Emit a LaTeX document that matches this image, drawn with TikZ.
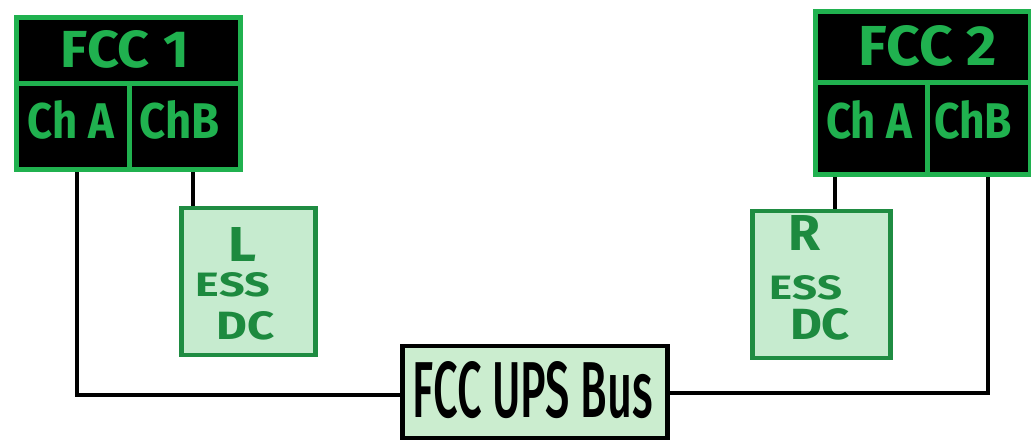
\documentclass[tikz,border=0pt]{standalone}
\usepackage{fontspec}
\setmainfont{Fira Sans}
\usetikzlibrary{calc}
\definecolor{fccgreen}{HTML}{20B14F}
\definecolor{essfill}{HTML}{C6EBCF}
\definecolor{essline}{HTML}{1F8C42}
\definecolor{esstext}{HTML}{1D8A3F}
\definecolor{busfill}{HTML}{CBEDCF}
\newcommand\fitlabel[3]{\resizebox{#1pt}{#2pt}{#3}}
\tikzset{
  cell/.style={draw=fccgreen, fill=black, line width=5pt, inner sep=0pt, anchor=north west},
  essbox/.style={draw=essline, fill=essfill, line width=4.5pt, inner sep=0pt, anchor=north west},
  esslabel/.style={text=esstext, inner sep=0pt},
  busbox/.style={draw=black, fill=busfill, line width=4.5pt, inner sep=0pt, anchor=north west},
  wire/.style={draw=black, line width=3.5pt}
}
\begin{document}
\begin{tikzpicture}[x=1pt,y=-1pt]
\useasboundingbox (0,0) rectangle (1031,443);
% FCC 1
\node[cell, minimum width=224pt, minimum height=65.5pt] (fcc1) at (13.5,15.5) {};
\node[cell, minimum width=113.5pt, minimum height=86.5pt] (fcc1a) at (13.5,81) {};
\node[cell, minimum width=110.5pt, minimum height=86.5pt] (fcc1b) at (127,81) {};
\node[text=fccgreen, inner sep=0pt] (t1) at (125,49) {\fitlabel{128}{37}{\bfseries FCC 1}};
\node[text=fccgreen, inner sep=0pt] (t1a) at (71,120) {\fitlabel{86}{38}{\bfseries Ch A}};
\node[text=fccgreen, inner sep=0pt] (t1b) at (180,120) {\fitlabel{80}{38}{\bfseries ChB}};
% FCC 2
\node[cell, minimum width=215pt, minimum height=70.5pt] (fcc2) at (812.5,9.5) {};
\node[cell, minimum width=112.5pt, minimum height=92.5pt] (fcc2a) at (812.5,80) {};
\node[cell, minimum width=102.5pt, minimum height=92.5pt] (fcc2b) at (925,80) {};
\node[text=fccgreen, inner sep=0pt] (t2) at (928,46) {\fitlabel{138}{40}{\bfseries FCC 2}};
\node[text=fccgreen, inner sep=0pt] (t2a) at (869,120) {\fitlabel{86}{38}{\bfseries Ch A}};
\node[text=fccgreen, inner sep=0pt] (t2b) at (973,120) {\fitlabel{78}{38}{\bfseries ChB}};
% ESS boxes
\node[essbox, minimum width=134pt, minimum height=147pt] (lbox) at (179,206) {};
\node[esslabel] (lL) at (243,245) {\fitlabel{28}{34}{\bfseries L}};
\node[esslabel] (lE) at (233,285) {\fitlabel{74}{24}{\bfseries ESS}};
\node[esslabel] (lD) at (246,326) {\fitlabel{58}{28}{\bfseries DC}};
\node[essbox, minimum width=138pt, minimum height=147pt] (rbox) at (750,209) {};
\node[esslabel] (rR) at (804,233) {\fitlabel{32}{35}{\bfseries R}};
\node[esslabel] (rE) at (806,288) {\fitlabel{72}{24}{\bfseries ESS}};
\node[esslabel] (rD) at (820,324) {\fitlabel{60}{31}{\bfseries DC}};
% Bus
\node[busbox, minimum width=265pt, minimum height=92pt] (bus) at (400,344) {};
\node[inner sep=0pt] (busl) at (533,390) {\fitlabel{240}{56}{\fontspec{Fira Sans Medium}FCC UPS Bus}};
% wires
\coordinate (c1) at (77,395);
\coordinate (c2) at (988,393);
\coordinate (c3) at (193,0);
\coordinate (c4) at (835,0);
\draw[wire] (fcc1a.south -| c1) -- (c1) -- (c1 -| bus.west);
\draw[wire] (c3 |- fcc1b.south) -- (c3 |- lbox.north);
\draw[wire] (c4 |- fcc2a.south) -- (c4 |- rbox.north);
\draw[wire] (bus.east |- c2) -- (c2) -- (c2 |- fcc2b.south);
\end{tikzpicture}
\end{document}
